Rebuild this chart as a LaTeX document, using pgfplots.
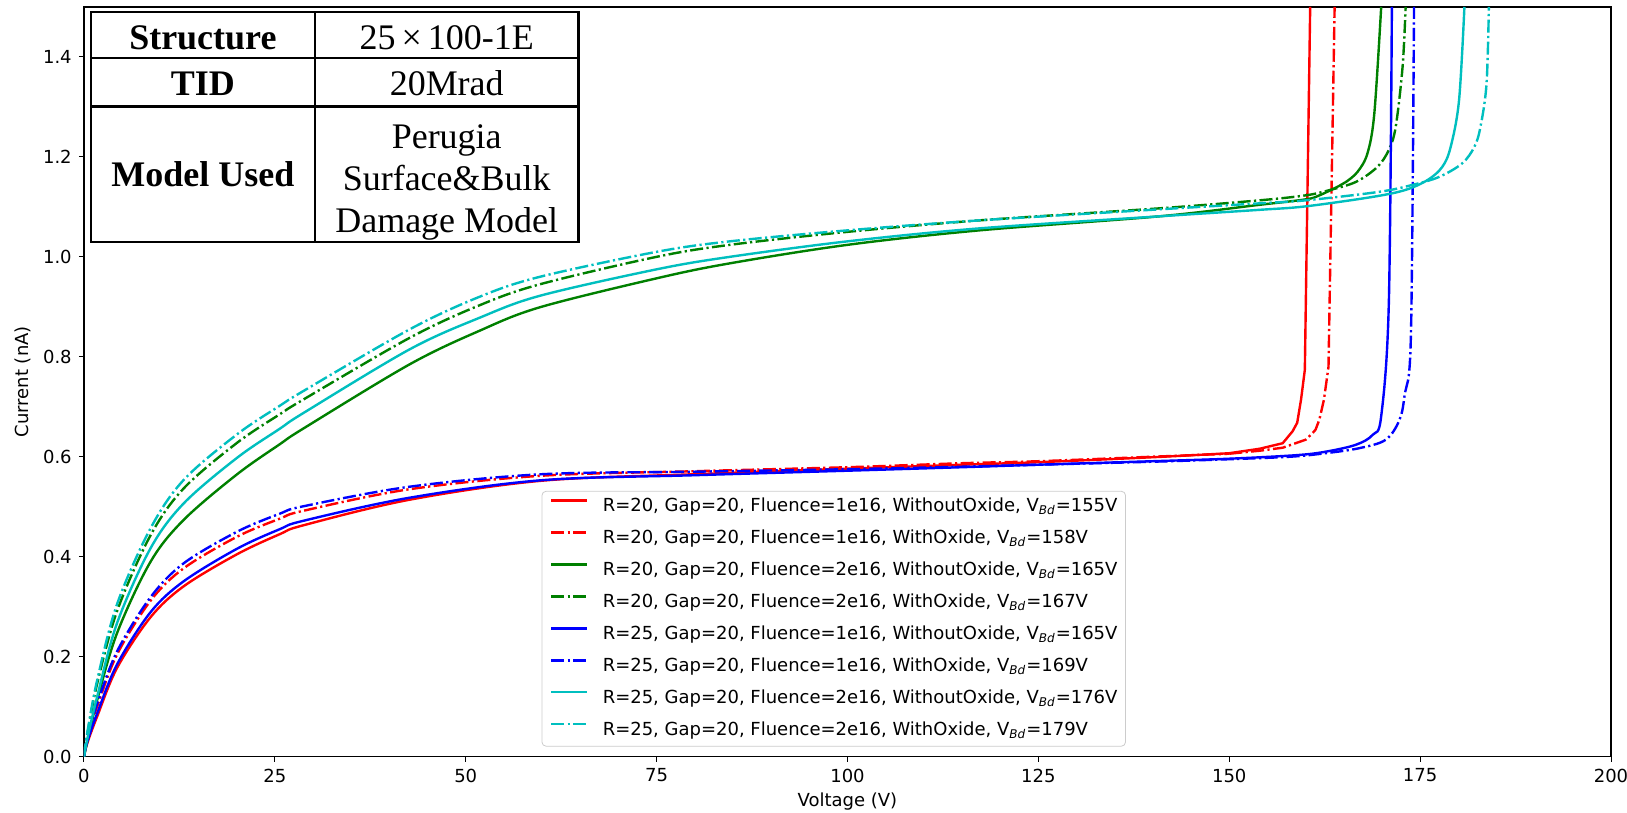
\documentclass[border=0pt]{standalone}
\usepackage{fontspec}
\setmainfont{DejaVu Sans}
\newfontfamily\tnr{Liberation Serif}
\usepackage{pgfplots}
\pgfplotsset{compat=1.18}
\definecolor{mplr}{rgb}{1,0,0}
\definecolor{mplg}{rgb}{0,0.5,0}
\definecolor{mplb}{rgb}{0,0,1}
\definecolor{mplc}{rgb}{0,0.75,0.75}
\tikzset{dd/.style={dash pattern=on 6.5pt off 1.7pt on 1.1pt off 1.7pt}}
\begin{document}
\begin{tikzpicture}
\begin{axis}[
 scale only axis, width=764pt, height=375pt,
 xmin=0, xmax=200, ymin=0, ymax=1.5,
 xtick={0,25,50,75,100,125,150,175,200},
 ytick={0,0.2,0.4,0.6,0.8,1.0,1.2,1.4},
 yticklabel style={/pgf/number format/fixed, /pgf/number format/fixed zerofill, /pgf/number format/precision=1},
 /pgf/number format/assume math mode=true,
 tick pos=left, tick align=outside, major tick length=2.6pt,
 tick style={black, line width=0.5pt},
 axis line style={line width=0.6pt},
 ticklabel style={font=\fontsize{9}{11}\selectfont},
 label style={font=\fontsize{9}{11}\selectfont},
 xlabel={Voltage (V)}, ylabel={Current (nA)},
 xlabel style={at={(axis description cs:0.5,-0.06)}, anchor=center},
 ylabel style={at={(axis description cs:-0.04,0.5)}, anchor=center},
 every axis plot/.append style={line width=1.2pt, smooth, tension=0.55},
 legend style={at={(axis description cs:0.2997,0.0133)}, anchor=south west,
   draw=black!20, fill=white, fill opacity=0.8, text opacity=1, rounded corners=2pt,
   font=\fontsize{9}{11}\selectfont, inner xsep=4pt, inner ysep=3pt, row sep=6.5pt,
   nodes={inner sep=0pt, anchor=west, text height=7pt, text depth=2.5pt},
   /tikz/every odd column/.append style={column sep=7.2pt}},
 legend cell align=left,
 legend image code/.code={\draw[#1, sharp plot] (0pt,3.2pt) -- (18pt,3.2pt);},
]
\addplot[mplr] coordinates {(0,0) (0.44,0.027) (1.75,0.081) (4.36,0.178) (8.73,0.279) (13.09,0.341) (20.07,0.405) (25.65,0.445) (28.8,0.463) (42.67,0.514) (60,0.552) (80,0.565) (100,0.576) (115,0.584) (125,0.589) (140,0.599) (150,0.607)};
\addlegendentry{R=20, Gap=20, Fluence=1e16, WithoutOxide, V\textsubscript{\textit{Bd}}=155V}
\addplot[mplr, sharp plot, forget plot] coordinates {(150,0.607) (154,0.616) (157,0.627) (158.3,0.651) (158.9,0.668) (159.4,0.714) (159.9,0.774) (160.6,1.5)};
\addplot[mplr, dd] coordinates {(0,0) (0.44,0.04) (1.75,0.101) (4.36,0.205) (8.73,0.312) (13.09,0.377) (20.07,0.44) (25.65,0.476) (28.8,0.492) (42.67,0.535) (60,0.562) (80,0.571) (100,0.579) (115,0.587) (125,0.591) (140,0.6) (150,0.606)};
\addlegendentry{R=20, Gap=20, Fluence=1e16, WithOxide, V\textsubscript{\textit{Bd}}=158V}
\addplot[mplr, dd, sharp plot, forget plot] coordinates {(150,0.606) (154,0.612) (157,0.618) (160,0.634) (160.9,0.647) (161.3,0.654) (161.8,0.674) (162.4,0.714) (163,0.78) (163.8,1.5)};
\addplot[mplg] coordinates {(0,0) (0.44,0.03) (1.75,0.114) (4.36,0.248) (8.73,0.39) (13.09,0.474) (20.07,0.565) (25.65,0.625) (28.8,0.657) (42.67,0.785) (51.8,0.852) (59.7,0.899) (75,0.957) (84.6,0.987) (100,1.024) (117.3,1.053) (140.8,1.081) (153.9,1.104) (160,1.115) (161.8,1.123) (164.4,1.142) (165.3,1.150) (166.8,1.170) (168.1,1.207) (169,1.287) (169.9,1.5)};
\addlegendentry{R=20, Gap=20, Fluence=2e16, WithoutOxide, V\textsubscript{\textit{Bd}}=165V}
\addplot[mplg, dd] coordinates {(0,0) (0.44,0.045) (1.75,0.147) (4.36,0.292) (8.73,0.443) (13.09,0.537) (20.07,0.628) (25.65,0.685) (28.8,0.715) (42.67,0.838) (51.8,0.903) (59.7,0.945) (75,1.0) (84.6,1.024) (100,1.05) (117.3,1.073) (140.8,1.097) (153.9,1.113) (160,1.123) (163,1.133) (166.6,1.15) (169.4,1.18) (170.9,1.214) (171.8,1.26) (172.7,1.38) (173.1,1.5)};
\addlegendentry{R=20, Gap=20, Fluence=2e16, WithOxide, V\textsubscript{\textit{Bd}}=167V}
\addplot[mplb] coordinates {(0,0) (0.44,0.03) (1.75,0.087) (4.36,0.185) (8.73,0.289) (13.09,0.351) (20.07,0.416) (25.65,0.455) (28.8,0.472) (42.67,0.518) (60,0.553) (80,0.563) (100,0.572) (115,0.579) (125,0.584) (140,0.591) (150,0.596) (158.7,0.603) (162.6,0.61) (166.6,0.624) (168.8,0.644) (169.9,0.681) (170.9,0.907) (171.3,1.5)};
\addlegendentry{R=25, Gap=20, Fluence=1e16, WithoutOxide, V\textsubscript{\textit{Bd}}=165V}
\addplot[mplb, dd] coordinates {(0,0) (0.44,0.042) (1.75,0.107) (4.36,0.211) (8.73,0.319) (13.09,0.387) (20.07,0.45) (25.65,0.486) (28.8,0.501) (42.67,0.54) (60,0.565) (80,0.570) (100,0.575) (115,0.58) (125,0.584) (140,0.59) (150,0.595) (158,0.6) (162.6,0.607) (167,0.617) (170.5,0.634) (172.3,0.674) (173,0.727) (173.8,0.847) (174.2,1.5)};
\addlegendentry{R=25, Gap=20, Fluence=1e16, WithOxide, V\textsubscript{\textit{Bd}}=169V}
\addplot[mplc] coordinates {(0,0) (0.44,0.035) (1.75,0.121) (4.36,0.268) (8.73,0.417) (13.09,0.507) (20.07,0.598) (25.65,0.656) (28.8,0.688) (42.67,0.815) (51.8,0.878) (59.7,0.922) (75,0.975) (84.6,1.0) (100,1.031) (117.3,1.057) (140.8,1.081) (153.9,1.094) (160,1.101) (168.8,1.12) (173.1,1.134) (176,1.154) (177.9,1.18) (179,1.22) (180.1,1.314) (180.8,1.5)};
\addlegendentry{R=25, Gap=20, Fluence=2e16, WithoutOxide, V\textsubscript{\textit{Bd}}=176V}
\addplot[mplc, dd] coordinates {(0,0) (0.44,0.048) (1.75,0.154) (4.36,0.306) (8.73,0.457) (13.09,0.554) (20.07,0.645) (25.65,0.702) (28.8,0.732) (42.67,0.855) (51.8,0.92) (59.7,0.96) (75,1.01) (84.6,1.031) (100,1.053) (117.3,1.073) (140.8,1.095) (153.9,1.107) (160,1.113) (169.6,1.13) (174,1.144) (177.5,1.16) (180.5,1.187) (182.1,1.22) (182.9,1.26) (183.7,1.347) (184,1.5)};
\addlegendentry{R=25, Gap=20, Fluence=2e16, WithOxide, V\textsubscript{\textit{Bd}}=179V}
\end{axis}
\begin{scope}[shift={(current axis.north west)}, line width=1.2pt]
 \fill[white] (3.5pt,-2.65pt) rectangle (247.5pt,-117.5pt);
 \draw (3.5pt,-2.65pt) rectangle (247.5pt,-117.5pt);
 \draw (115.5pt,-2.65pt) -- (115.5pt,-117.5pt);
 \draw (3.5pt,-25.65pt) -- (247.5pt,-25.65pt);
 \draw (3.5pt,-49.85pt) -- (247.5pt,-49.85pt);
 \tikzset{tb/.style={anchor=base, inner sep=0pt, font={\tnr\bfseries\fontsize{18}{21.5}\selectfont}},
          tr/.style={anchor=base, inner sep=0pt, font={\tnr\fontsize{18}{21.5}\selectfont}}}
 \node[tb] at (59.5pt,-21.25pt) {Structure};
 \node[tr] at (181.5pt,-21.25pt) {25\,×\,100-1E};
 \node[tb] at (59.5pt,-44.5pt) {TID};
 \node[tr] at (181.5pt,-44.5pt) {20Mrad};
 \node[tb] at (59.5pt,-89.75pt) {Model Used};
 \node[tr] at (181.5pt,-71pt) {Perugia};
 \node[tr] at (181.5pt,-92pt) {Surface\&Bulk};
 \node[tr] at (181.5pt,-113pt) {Damage Model};
\end{scope}
\pgfresetboundingbox
\path[use as bounding box] ([shift={(-42pt,-28pt)}]current axis.south west) rectangle ([shift={(8pt,3.5pt)}]current axis.north east);
\end{tikzpicture}
\end{document}
